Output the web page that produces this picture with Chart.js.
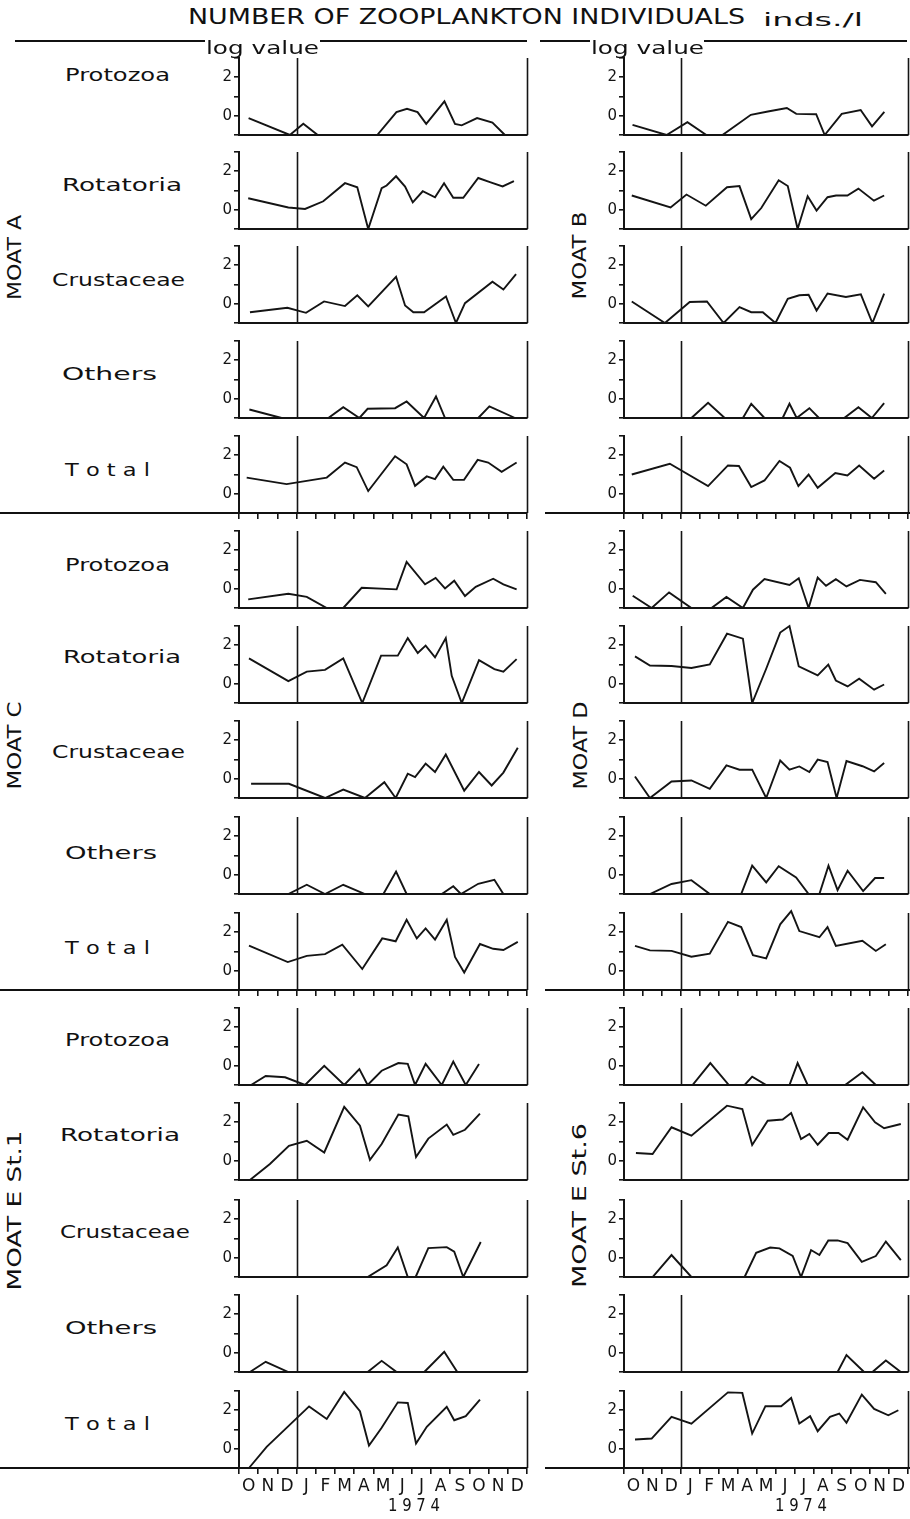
<!DOCTYPE html>
<html><head><meta charset="utf-8">
<script src="https://cdn.jsdelivr.net/npm/chart.js@4.4.1/dist/chart.umd.min.js"></script>
<style>
html,body{margin:0;padding:0;background:#fff;}
body{width:910px;height:1519px;position:relative;overflow:hidden;font-family:"DejaVu Sans",sans-serif;color:#111;}
.t{position:absolute;white-space:nowrap;line-height:1;transform-origin:0 50%;}
.r{position:absolute;white-space:nowrap;line-height:1;transform-origin:50% 50%;}
.hl{position:absolute;height:2px;background:#111;}
canvas{position:absolute;}
</style></head><body>
<script>
// ---------- DATA: [month index from 1 Oct 1973, log10 inds./l] ----------
const monthLabels = ['O','N','D','J','F','M','A','M','J','J','A','S','O','N','D'];
const yTickLabels = {0:'0', 2:'2'};
const groups = ['Protozoa','Rotatoria','Crustaceae','Others','Total'];
const stations = ['MOAT A','MOAT B','MOAT C','MOAT D','MOAT E St.1','MOAT E St.6'];

const A_Protozoa   = [[0.5,-0.12],[2.65,-1],[3.35,-0.42],[4.1,-1],[7.2,-1],[8.2,0.19],[8.75,0.36],[9.3,0.19],[9.75,-0.42],[10.7,0.75],[11.25,-0.42],[11.6,-0.5],[12.4,-0.12],[13.2,-0.36],[13.85,-1]];
const A_Rotatoria  = [[0.48,0.6],[2.57,0.12],[3.44,0.04],[4.39,0.44],[5.52,1.38],[6.16,1.17],[6.73,-1],[7.43,1.12],[7.69,1.26],[8.18,1.74],[8.65,1.2],[9.05,0.38],[9.57,0.96],[10.21,0.65],[10.68,1.38],[11.16,0.62],[11.68,0.62],[12.46,1.65],[13.07,1.44],[13.73,1.21],[14.32,1.49]];
const A_Crustaceae = [[0.57,-0.44],[2.52,-0.21],[3.49,-0.47],[4.43,0.12],[5.52,-0.12],[6.16,0.44],[6.73,-0.14],[8.18,1.4],[8.65,-0.09],[9.08,-0.44],[9.64,-0.44],[10.78,0.38],[11.3,-1],[11.77,0.03],[13.2,1.14],[13.77,0.74],[14.43,1.54]];
const A_Others     = [[0.54,-0.56],[2.22,-1],[4.65,-1],[5.43,-0.44],[6.27,-1],[6.7,-0.52],[8.13,-0.49],[8.73,-0.14],[9.64,-1],[10.26,0.12],[10.73,-1],[12.46,-1],[13.04,-0.4],[14.38,-1]];
const A_Total      = [[0.4,0.84],[2.48,0.5],[4.57,0.84],[5.52,1.62],[6.13,1.38],[6.73,0.14],[8.13,1.95],[8.73,1.53],[9.17,0.41],[9.78,0.9],[10.21,0.76],[10.64,1.41],[11.16,0.72],[11.72,0.72],[12.43,1.76],[12.98,1.62],[13.68,1.14],[14.46,1.62]];

const B_Protozoa   = [[0.45,-0.47],[2.25,-1],[3.35,-0.33],[4.35,-1],[5.2,-1],[6.7,0.05],[7.6,0.22],[8.6,0.4],[9.1,0.1],[10.15,0.08],[10.6,-1],[11.5,0.1],[12.5,0.3],[13.1,-0.55],[13.75,0.2]];
const B_Rotatoria  = [[0.41,0.74],[2.46,0.12],[3.3,0.79],[4.32,0.21],[5.44,1.17],[6.1,1.23],[6.72,-0.49],[7.25,0.09],[8.17,1.53],[8.65,1.23],[9.17,-1],[9.7,0.7],[10.17,-0.04],[10.75,0.65],[11.2,0.74],[11.8,0.74],[12.38,1.1],[13.2,0.47],[13.74,0.74]];
const B_Crustaceae = [[0.41,0.12],[2.16,-1],[3.47,0.09],[4.38,0.12],[5.26,-1],[6.1,-0.17],[6.72,-0.44],[7.33,-0.44],[8.0,-1],[8.65,0.26],[9.26,0.44],[9.75,0.47],[10.17,-0.35],[10.75,0.53],[11.72,0.35],[12.51,0.49],[13.12,-1],[13.74,0.53]];
const B_Others     = [[0.5,-1],[3.56,-1],[4.44,-0.21],[5.32,-1],[6.28,-1],[6.72,-0.26],[7.42,-1],[8.38,-1],[8.74,-0.26],[9.12,-1],[9.79,-0.49],[10.3,-1],[11.63,-1],[12.38,-0.44],[13.09,-1],[13.74,-0.23]];
const B_Total      = [[0.41,1.0],[2.42,1.56],[4.44,0.4],[5.49,1.47],[6.07,1.44],[6.72,0.35],[7.42,0.69],[8.21,1.7],[8.77,1.35],[9.21,0.4],[9.75,1.0],[10.23,0.31],[11.16,1.08],[11.8,0.95],[12.42,1.47],[13.21,0.78],[13.74,1.21]];

const C_Protozoa   = [[0.48,-0.55],[2.57,-0.26],[3.53,-0.42],[4.57,-1],[5.43,-1],[6.39,0.05],[8.21,-0.03],[8.73,1.39],[9.69,0.23],[10.24,0.56],[10.73,0.02],[11.21,0.42],[11.77,-0.38],[12.33,0.1],[13.24,0.52],[13.77,0.23],[14.46,-0.03]];
const C_Rotatoria  = [[0.52,1.32],[2.57,0.14],[3.53,0.63],[4.48,0.72],[5.43,1.32],[6.42,-1],[7.4,1.46],[8.27,1.46],[8.79,2.37],[9.31,1.6],[9.72,1.98],[10.21,1.37],[10.77,2.37],[11.08,0.41],[11.6,-1],[12.5,1.23],[13.3,0.76],[13.77,0.63],[14.46,1.28]];
const C_Crustaceae = [[0.63,-0.26],[2.6,-0.26],[4.48,-1],[5.43,-0.56],[6.56,-1],[7.57,-0.18],[8.16,-1],[8.79,0.26],[9.17,0.09],[9.72,0.79],[10.21,0.35],[10.77,1.26],[11.73,-0.62],[12.5,0.35],[13.16,-0.35],[13.77,0.32],[14.52,1.61]];
const C_Others     = [[0.5,-1],[2.57,-1],[3.53,-0.52],[4.48,-1],[5.43,-0.52],[6.56,-1],[7.52,-1],[8.18,0.17],[8.73,-1],[10.56,-1],[11.16,-0.6],[11.56,-1],[12.46,-0.47],[13.3,-0.26],[13.77,-1]];
const C_Total      = [[0.52,1.3],[2.54,0.45],[3.53,0.77],[4.48,0.86],[5.38,1.35],[6.42,0.09],[7.46,1.68],[8.16,1.53],[8.73,2.65],[9.26,1.68],[9.72,2.2],[10.21,1.62],[10.82,2.65],[11.25,0.72],[11.73,-0.09],[12.55,1.39],[13.24,1.14],[13.77,1.08],[14.52,1.5]];

const D_Protozoa   = [[0.46,-0.36],[1.46,-1],[2.38,-0.19],[3.56,-1],[4.62,-1],[5.41,-0.43],[6.28,-1],[6.81,-0.05],[7.42,0.5],[8.74,0.2],[9.23,0.55],[9.75,-1],[10.23,0.58],[10.67,0.15],[11.19,0.5],[11.75,0.12],[12.46,0.46],[13.3,0.34],[13.83,-0.26]];
const D_Rotatoria  = [[0.58,1.42],[1.37,0.95],[2.51,0.92],[3.56,0.82],[4.53,1.0],[5.44,2.6],[6.28,2.34],[6.77,-1],[7.51,0.78],[8.25,2.66],[8.74,3.0],[9.23,0.9],[10.23,0.43],[10.79,0.99],[11.19,0.17],[11.81,-0.14],[12.42,0.26],[13.21,-0.31],[13.74,-0.04]];
const D_Crustaceae = [[0.58,0.12],[1.37,-1],[2.51,-0.14],[3.56,-0.09],[4.53,-0.52],[5.41,0.69],[6.1,0.47],[6.77,0.47],[7.51,-1],[8.25,0.95],[8.74,0.47],[9.26,0.64],[9.79,0.35],[10.23,0.99],[10.75,0.87],[11.23,-1],[11.75,0.92],[12.6,0.65],[13.21,0.38],[13.74,0.82]];
const D_Others     = [[0.5,-1],[1.37,-1],[2.51,-0.48],[3.56,-0.28],[4.53,-1],[6.19,-1],[6.77,0.47],[7.51,-0.4],[8.17,0.44],[9.09,-0.14],[9.75,-1],[10.32,-1],[10.8,0.47],[11.28,-0.8],[11.81,0.21],[12.63,-0.85],[13.26,-0.17],[13.74,-0.17]];
const D_Total      = [[0.58,1.29],[1.37,1.06],[2.51,1.03],[3.56,0.73],[4.53,0.89],[5.49,2.54],[6.19,2.27],[6.81,0.81],[7.51,0.64],[8.25,2.41],[8.83,3.1],[9.26,2.06],[10.32,1.74],[10.75,2.27],[11.19,1.29],[12.59,1.56],[13.3,1.03],[13.83,1.38]];

const E1_Protozoa   = [[0.63,-1],[1.39,-0.53],[2.4,-0.6],[3.44,-1],[4.44,0.0],[5.48,-1],[6.27,-0.17],[6.7,-1],[7.43,-0.26],[8.3,0.14],[8.79,0.1],[9.17,-1],[9.72,0.1],[10.56,-1],[11.16,0.22],[11.81,-1],[12.5,0.09]];
const E1_Rotatoria  = [[0.57,-1],[1.61,-0.17],[2.6,0.78],[3.53,1.04],[4.44,0.43],[5.48,2.8],[6.3,1.82],[6.82,0.05],[7.43,0.87],[8.3,2.4],[8.82,2.31],[9.22,0.19],[9.86,1.15],[10.82,1.88],[11.16,1.35],[11.77,1.61],[12.55,2.45]];
const E1_Crustaceae = [[0.5,-1],[6.7,-1],[7.69,-0.39],[8.27,0.53],[8.79,-1],[9.2,-1],[9.86,0.5],[10.82,0.55],[11.21,0.32],[11.68,-1],[12.59,0.82]];
const E1_Others     = [[0.57,-1],[1.39,-0.47],[2.57,-1],[6.7,-1],[7.43,-0.42],[8.21,-1],[9.65,-1],[10.69,0.05],[11.37,-1],[13.07,-1]];
const E1_Total      = [[0.52,-1],[1.44,0.1],[3.65,2.2],[4.57,1.55],[5.48,2.95],[6.3,1.95],[6.77,0.17],[7.43,1.09],[8.27,2.41],[8.79,2.38],[9.22,0.27],[9.78,1.14],[10.82,2.18],[11.21,1.48],[11.81,1.69],[12.55,2.55]];

const E6_Protozoa   = [[0.5,-1],[3.62,-1],[4.56,0.14],[5.54,-1],[6.37,-1],[6.77,-0.57],[7.51,-1],[8.74,-1],[9.17,0.14],[9.7,-1],[11.68,-1],[12.59,-0.34],[13.3,-1]];
const E6_Rotatoria  = [[0.63,0.4],[1.51,0.35],[2.51,1.74],[3.56,1.3],[5.44,2.86],[6.25,2.69],[6.77,0.82],[7.59,2.08],[8.38,2.14],[8.83,2.48],[9.35,1.13],[9.79,1.39],[10.23,0.83],[10.81,1.44],[11.33,1.44],[11.81,1.09],[12.63,2.78],[13.26,2.0],[13.74,1.69],[14.62,1.91]];
const E6_Crustaceae = [[0.5,-1],[1.51,-1],[2.51,0.14],[3.56,-1],[6.37,-1],[6.98,0.26],[7.72,0.53],[8.21,0.49],[8.91,0.09],[9.35,-1],[9.88,0.4],[10.32,0.14],[10.79,0.9],[11.28,0.9],[11.81,0.76],[12.56,-0.21],[13.3,0.09],[13.83,0.84],[14.62,-0.12]];
const E6_Others     = [[0.5,-1],[11.28,-1],[11.75,-0.12],[12.68,-1],[13.12,-1],[13.83,-0.4],[14.62,-1]];
const E6_Total      = [[0.58,0.48],[1.46,0.53],[2.51,1.66],[3.56,1.3],[5.49,2.93],[6.25,2.9],[6.77,0.79],[7.47,2.21],[8.3,2.21],[8.83,2.64],[9.26,1.31],[9.83,1.69],[10.23,0.91],[10.88,1.66],[11.37,1.83],[11.75,1.35],[12.56,2.81],[13.21,2.07],[13.96,1.74],[14.49,2.0]];

// panels[row][col]
const panelData = [
  [A_Protozoa, B_Protozoa],[A_Rotatoria, B_Rotatoria],[A_Crustaceae, B_Crustaceae],[A_Others, B_Others],[A_Total, B_Total],
  [C_Protozoa, D_Protozoa],[C_Rotatoria, D_Rotatoria],[C_Crustaceae, D_Crustaceae],[C_Others, D_Others],[C_Total, D_Total],
  [E1_Protozoa, E6_Protozoa],[E1_Rotatoria, E6_Rotatoria],[E1_Crustaceae, E6_Crustaceae],[E1_Others, E6_Others],[E1_Total, E6_Total]
];

// ---------- LAYOUT ----------
const INK = '#141414';
const cols = [{axis:239, right:527}, {axis:624, right:908}];
const rowZero = [115.5, 209.5, 304, 399, 494, 588.5, 684, 779, 875, 970.5, 1066, 1161, 1257.5, 1353, 1449];
const UNIT = 19.25;
const YW = 32, TOPPAD = 6, RPAD = 4;

function addText(txt, x, yc, w, size, extra) {
  const d = document.createElement('div');
  d.className = 't';
  d.textContent = txt;
  d.style.fontSize = size + 'px';
  d.style.left = x + 'px';
  d.style.top = (yc - size/2) + 'px';
  if (extra) Object.assign(d.style, extra);
  document.body.appendChild(d);
  const nat = d.getBoundingClientRect().width;
  d.style.transform = 'scaleX(' + (w/nat) + ')';
  return d;
}
function addRot(txt, cx, cy, len, size) {
  const d = document.createElement('div');
  d.className = 'r';
  d.textContent = txt;
  d.style.fontSize = size + 'px';
  document.body.appendChild(d);
  const r = d.getBoundingClientRect();
  d.style.left = (cx - r.width/2) + 'px';
  d.style.top = (cy - r.height/2) + 'px';
  d.style.transform = 'rotate(-90deg) scaleX(' + (len/r.width) + ')';
}
function hline(x1, x2, y, h) {
  const d = document.createElement('div');
  d.className = 'hl';
  d.style.left = x1 + 'px'; d.style.width = (x2-x1) + 'px';
  d.style.top = (y - (h||2)/2) + 'px'; d.style.height = (h||2) + 'px';
  document.body.appendChild(d);
}

const dividerPlugin = {
  id: 'dividers',
  afterDraw(chart) {
    const {ctx, chartArea, scales} = chart;
    ctx.save();
    ctx.strokeStyle = INK;
    ctx.lineWidth = 1.6;
    [3, 15].forEach(v => {
      const x = Math.round(scales.x.getPixelForValue(v)) + 0.5;
      ctx.beginPath();
      ctx.moveTo(x, chartArea.top);
      ctx.lineTo(x, chartArea.bottom);
      ctx.stroke();
    });
    ctx.restore();
  }
};

function makePanel(row, col) {
  const c = cols[col];
  const zero = rowZero[row];
  const isTotal = (row % 5) === 4;
  const isLast = row === 14;
  const chartTop = Math.round(zero - 3*UNIT);
  const chartH = Math.round(4*UNIT);
  const xH = isTotal ? 7 : 1;
  const mH = isLast ? 26 : 0;
  const W = YW + (c.right - c.axis) + RPAD;
  const H = TOPPAD + chartH + xH + mH;
  const cv = document.createElement('canvas');
  cv.width = W; cv.height = H;
  cv.style.left = (c.axis - YW) + 'px';
  cv.style.top = (chartTop - TOPPAD) + 'px';
  cv.style.width = W + 'px'; cv.style.height = H + 'px';
  document.body.appendChild(cv);
  const scales = {
    x: {
      type: 'linear', min: 0, max: 15, weight: 0,
      afterBuildTicks(s) { s.ticks = monthLabels.map((_, i) => ({value: i})).concat([{value: 15}]); },
      afterFit(s) { s.height = xH; s.paddingLeft = 0; s.paddingRight = 0; },
      ticks: {display: false},
      grid: {display: isTotal, drawOnChartArea: false, drawTicks: true, tickLength: 6, color: INK, lineWidth: 1.6},
      border: {display: true, color: INK, width: 2}
    },
    y: {
      type: 'linear', min: -1, max: 3,
      afterBuildTicks(s) { s.ticks = [-1,0,1,2,3].map(v => ({value: v})); },
      afterFit(s) { s.width = YW; s.paddingTop = 0; s.paddingBottom = 0; },
      ticks: {autoSkip: false, padding: 2, color: INK, font: {family: 'DejaVu Sans', size: 15},
              callback: v => (yTickLabels[v] !== undefined ? yTickLabels[v] : '')},
      grid: {drawOnChartArea: false, drawTicks: true, tickLength: 5, color: INK, lineWidth: 1.6},
      border: {display: true, color: INK, width: 2}
    }
  };
  if (isLast) {
    scales.xm = {
      type: 'linear', position: 'bottom', min: 0, max: 15, weight: 1,
      afterBuildTicks(s) { s.ticks = monthLabels.map((_, i) => ({value: i + 0.5})); },
      afterFit(s) { s.height = mH; s.paddingLeft = 0; s.paddingRight = 0; },
      ticks: {autoSkip: false, maxRotation: 0, padding: 1, color: INK,
              font: {family: 'DejaVu Sans', size: 17},
              callback: (v, i) => monthLabels[i]},
      grid: {display: false, drawTicks: false, tickLength: 0},
      border: {display: false}
    };
  }
  new Chart(cv, {
    type: 'line',
    data: {datasets: [{
      data: panelData[row][col].map(p => ({x: p[0], y: p[1]})),
      borderColor: INK, borderWidth: 1.9, pointRadius: 0, tension: 0, fill: false, clip: false,
      borderJoinStyle: 'miter'
    }]},
    options: {
      responsive: false, animation: false, devicePixelRatio: 1,
      layout: {padding: {left: 0, top: TOPPAD, right: RPAD, bottom: 0}},
      plugins: {legend: {display: false}, tooltip: {enabled: false}},
      scales
    },
    plugins: [dividerPlugin]
  });
}

for (let r = 0; r < 15; r++) for (let c = 0; c < 2; c++) makePanel(r, c);

// ---------- TEXT & RULES ----------
addText('NUMBER OF ZOOPLANKTON INDIVIDUALS', 188, 17, 557, 21);
addText('inds./l', 763, 20, 100, 18);
hline(15, 205, 41); hline(320, 527, 41);
hline(540, 590, 41); hline(704, 907, 41);
addText("log value", 206, 48, 113, 17);
addText("log value", 591, 48, 113, 17);

const labelPos = [
  [65, 75, 105],[62, 185, 120],[52, 280, 133],[62, 374, 95],[65, 470, 85],
  [65, 565, 105],[63, 657, 118],[52, 752, 133],[65, 853, 92],[65, 948, 85],
  [65, 1040, 105],[60, 1135, 120],[60, 1232, 130],[65, 1328, 92],[65, 1424, 85]
];
labelPos.forEach((p, i) => {
  const g = groups[i % 5];
  const t = g === 'Total' ? 'T o t a l' : g;
  addText(t, p[0], p[1], p[2], 17);
});

addRot(stations[0], 15, 257, 85, 19);
addRot(stations[1], 580, 255, 88, 19);
addRot(stations[2], 15, 745, 88, 19);
addRot(stations[3], 580, 745, 88, 19);
addRot(stations[4], 15, 1210, 160, 19);
addRot(stations[5], 580, 1205, 165, 19);

// section rules (extend the Total baselines across the page)
[4, 9, 14].forEach(r => {
  const y = Math.round(rowZero[r] - 3*UNIT) + Math.round(4*UNIT);
  hline(0, 527, y); hline(545, 910, y);
});

addText('1 9 7 4', 388, 1505, 52, 18);
addText('1 9 7 4', 775, 1505, 52, 18);
</script>
</body></html>
